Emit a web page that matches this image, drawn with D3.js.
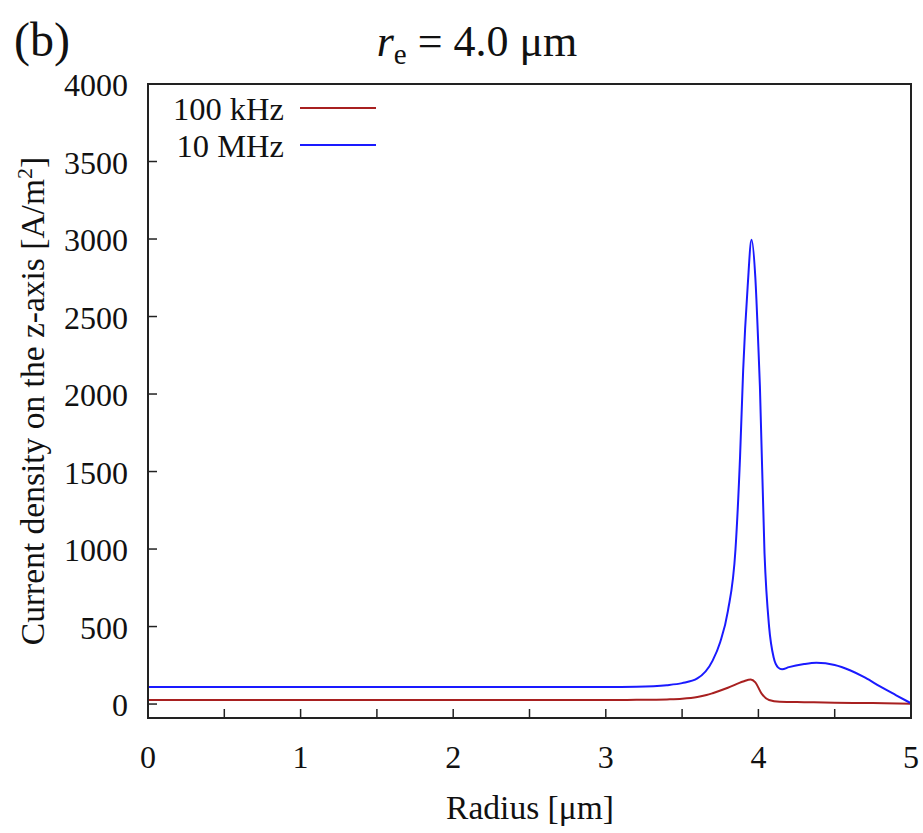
<!DOCTYPE html>
<html>
<head>
<meta charset="utf-8">
<script src="https://cdn.jsdelivr.net/npm/d3@7"></script>
<style>
  body { margin: 0; background: #fff; }
  text { font-family: "Liberation Serif", "Times New Roman", serif; fill: #111; }
</style>
</head>
<body>
<div id="chart"></div>
<script>
// data
var radius10M = [0, 0.5, 1, 1.5, 2, 2.5, 3, 3.2, 3.4, 3.5, 3.6, 3.7, 3.75, 3.8, 3.85, 3.88, 3.9, 3.93, 3.955, 3.98, 4.0, 4.01, 4.04, 4.07, 4.1, 4.13, 4.155, 4.2, 4.3, 4.38, 4.5, 4.6, 4.7, 4.8, 4.9, 5.0];
var current10M = [110, 110, 110, 110, 110, 110, 110, 112, 122, 135, 165, 280, 400, 600, 1000, 1600, 2150, 2700, 2995, 2750, 2300, 2045, 974, 500, 300, 235, 224, 238, 258, 266, 252, 218, 170, 112, 58, 5];
var radius100k = [0, 0.5, 1, 1.5, 2, 2.5, 3, 3.2, 3.4, 3.5, 3.6, 3.66, 3.7, 3.8, 3.9, 3.95, 3.98, 4.02, 4.07, 4.14, 4.3, 4.5, 4.75, 5.0];
var current100k = [26, 26, 26, 26, 26, 26, 26, 27, 30, 34, 45, 58, 70, 105, 145, 159, 140, 69, 26, 15, 12, 9, 6, 2];
var xTicks = [0, 1, 2, 3, 4, 5];
var yTicks = [0, 500, 1000, 1500, 2000, 2500, 3000, 3500, 4000];
var seriesNames = ["100 kHz", "10 MHz"];
var seriesColors = ["#a82020", "#1a1aff"];

var W = 923, H = 833;
var mLeft = 148, mRight = 911, mTop = 84, mBottom = 718;

var svg = d3.select("#chart").append("svg")
    .attr("width", W)
    .attr("height", H);

var x = d3.scaleLinear().domain([0, 5]).range([mLeft, mRight]);
var y = d3.scaleLinear().domain([-90, 4000]).range([mBottom, mTop]);

// inward minor ticks every 0.5 on x
var xMinor = d3.range(0, 5.01, 0.5);
svg.append("g").selectAll("line")
    .data(xMinor)
    .enter().append("line")
    .attr("x1", function(d) { return x(d); })
    .attr("x2", function(d) { return x(d); })
    .attr("y1", mBottom)
    .attr("y2", mBottom - 9)
    .attr("stroke", "#222")
    .attr("stroke-width", 1.5);

svg.append("g").selectAll("line")
    .data(yTicks)
    .enter().append("line")
    .attr("x1", mLeft)
    .attr("x2", mLeft + 9)
    .attr("y1", function(d) { return y(d); })
    .attr("y2", function(d) { return y(d); })
    .attr("stroke", "#222")
    .attr("stroke-width", 1.5);

// tick labels
svg.append("g").selectAll("text")
    .data(xTicks)
    .enter().append("text")
    .attr("x", function(d) { return x(d); })
    .attr("y", 768)
    .attr("text-anchor", "middle")
    .attr("font-size", 32)
    .text(function(d) { return d; });

svg.append("g").selectAll("text")
    .data(yTicks)
    .enter().append("text")
    .attr("x", 128)
    .attr("y", function(d) { return y(d) + 12; })
    .attr("text-anchor", "end")
    .attr("font-size", 32)
    .text(function(d) { return d; });

// lines
var line = d3.line()
    .x(function(d) { return x(d[0]); })
    .y(function(d) { return y(d[1]); })
    .curve(d3.curveMonotoneX);

var data100k = d3.zip(radius100k, current100k);
var data10M = d3.zip(radius10M, current10M);

svg.append("path")
    .datum(data100k)
    .attr("d", line)
    .attr("fill", "none")
    .attr("stroke", seriesColors[0])
    .attr("stroke-width", 2);

svg.append("path")
    .datum(data10M)
    .attr("d", line)
    .attr("fill", "none")
    .attr("stroke", seriesColors[1])
    .attr("stroke-width", 2);

// frame
svg.append("rect")
    .attr("x", mLeft)
    .attr("y", mTop)
    .attr("width", mRight - mLeft)
    .attr("height", mBottom - mTop)
    .attr("fill", "none")
    .attr("stroke", "#222")
    .attr("stroke-width", 2);

// legend
var legend = svg.append("g");
seriesNames.forEach(function(name, i) {
    var ly = 108 + i * 37;
    legend.append("text")
        .attr("x", 284)
        .attr("y", ly + 12)
        .attr("text-anchor", "end")
        .attr("font-size", 32.5)
        .text(name);
    legend.append("line")
        .attr("x1", 300)
        .attr("x2", 376)
        .attr("y1", ly)
        .attr("y2", ly)
        .attr("stroke", seriesColors[i])
        .attr("stroke-width", 2);
});

// axis titles
svg.append("text")
    .attr("x", 530)
    .attr("y", 819)
    .attr("text-anchor", "middle")
    .attr("font-size", 33.5)
    .text("Radius [μm]");

var yl = svg.append("text")
    .attr("transform", "translate(44,401) rotate(-90)")
    .attr("text-anchor", "middle")
    .attr("font-size", 33.5);
yl.append("tspan").text("Current density on the z-axis [A/m");
yl.append("tspan").attr("font-size", 22).attr("dy", -12).text("2");
yl.append("tspan").attr("dy", 12).text("]");

// panel tag and title
svg.append("text")
    .attr("x", 14)
    .attr("y", 56)
    .attr("font-size", 48)
    .text("(b)");

var title = svg.append("text")
    .attr("x", 477)
    .attr("y", 56)
    .attr("text-anchor", "middle")
    .attr("font-size", 44);
title.append("tspan").attr("font-style", "italic").text("r");
title.append("tspan").attr("font-size", 29).attr("dy", 8).text("e");
title.append("tspan").attr("dy", -8).text(" = 4.0 μm");
</script>
</body>
</html>
